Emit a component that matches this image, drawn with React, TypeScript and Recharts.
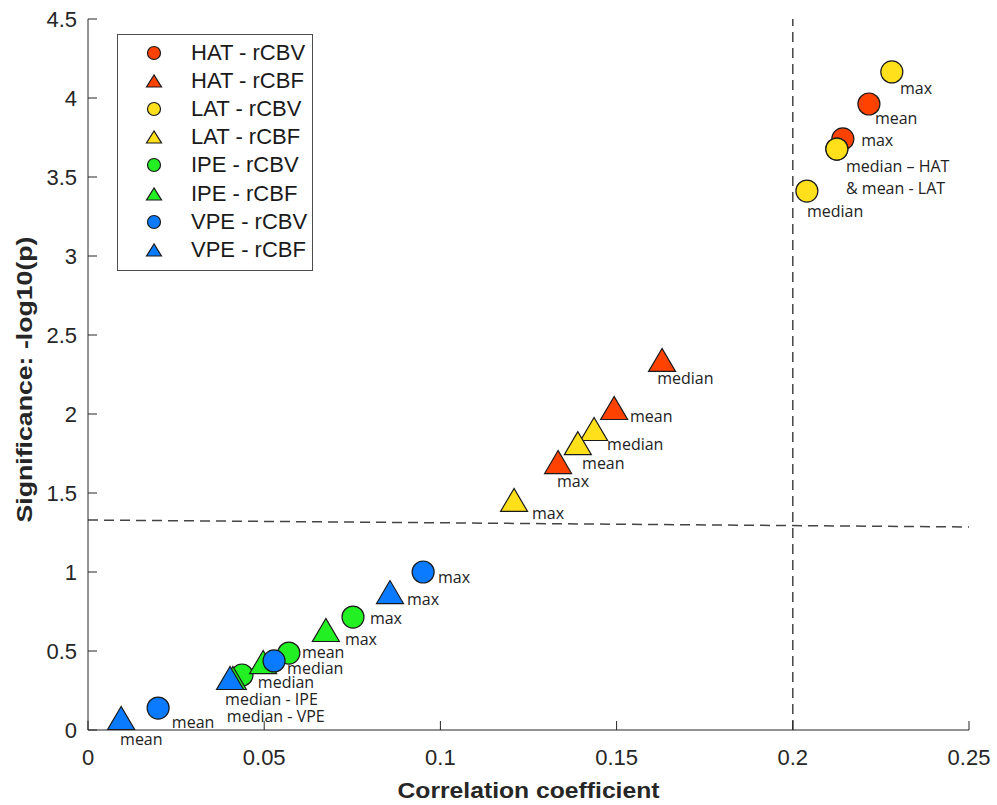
import { Legend, ReferenceDot, ReferenceLine, Scatter, ScatterChart, XAxis, YAxis } from "recharts";

type Pt = { x: number; y: number };

// axis ticks
const xTicks = [0, 0.05, 0.1, 0.15, 0.2, 0.25];
const yTicks = [0, 0.5, 1, 1.5, 2, 2.5, 3, 3.5, 4, 4.5];

// points: correlation coefficient vs -log10(p)
const hatRcbv: Pt[] = [
  { x: 0.2216, y: 3.962 }, // mean
  { x: 0.2142, y: 3.741 }, // max
  { x: 0.2125, y: 3.677 } // median
];
const hatRcbf: Pt[] = [
  { x: 0.1629, y: 2.342 }, // median
  { x: 0.1493, y: 2.038 }, // mean
  { x: 0.1334, y: 1.696 } // max
];
const latRcbv: Pt[] = [
  { x: 0.2281, y: 4.165 }, // max
  { x: 0.2125, y: 3.677 }, // mean
  { x: 0.204, y: 3.411 } // median
];
const latRcbf: Pt[] = [
  { x: 0.1436, y: 1.905 }, // median
  { x: 0.139, y: 1.816 }, // mean
  { x: 0.1209, y: 1.456 } // max
];
const ipeRcbv: Pt[] = [
  { x: 0.0752, y: 0.715 }, // max
  { x: 0.057, y: 0.487 }, // mean
  { x: 0.0437, y: 0.348 } // median
];
const ipeRcbf: Pt[] = [
  { x: 0.0675, y: 0.633 }, // max
  { x: 0.0497, y: 0.43 }, // mean
  { x: 0.0411, y: 0.329 } // median
];
const vpeRcbv: Pt[] = [
  { x: 0.0951, y: 1.0 }, // max
  { x: 0.0528, y: 0.437 }, // median
  { x: 0.0199, y: 0.139 } // mean
];
const vpeRcbf: Pt[] = [
  { x: 0.0857, y: 0.873 }, // max
  { x: 0.0403, y: 0.329 }, // median
  { x: 0.0094, y: 0.076 } // mean
];

const seriesNames = [
  "HAT - rCBV",
  "HAT - rCBF",
  "LAT - rCBV",
  "LAT - rCBF",
  "IPE - rCBV",
  "IPE - rCBF",
  "VPE - rCBV",
  "VPE - rCBF"
];
const seriesData = [hatRcbv, hatRcbf, latRcbv, latRcbf, ipeRcbv, ipeRcbf, vpeRcbv, vpeRcbf];

// text annotations (data coords of the text start)
const pointLabels = [
  { x: 0.2304, y: 4.063, text: "max" },
  { x: 0.2233, y: 3.873, text: "mean" },
  { x: 0.2194, y: 3.734, text: "max" },
  { x: 0.2151, y: 3.57, text: "median \u2013 HAT" },
  { x: 0.2151, y: 3.43, text: "& mean  - LAT" },
  { x: 0.204, y: 3.285, text: "median" },
  { x: 0.1615, y: 2.228, text: "median" },
  { x: 0.1538, y: 1.987, text: "mean" },
  { x: 0.1473, y: 1.81, text: "median" },
  { x: 0.1402, y: 1.69, text: "mean" },
  { x: 0.1331, y: 1.576, text: "max" },
  { x: 0.126, y: 1.373, text: "max" },
  { x: 0.0993, y: 0.968, text: "max" },
  { x: 0.0905, y: 0.829, text: "max" },
  { x: 0.08, y: 0.709, text: "max" },
  { x: 0.0729, y: 0.576, text: "max" },
  { x: 0.0607, y: 0.494, text: "mean" },
  { x: 0.0565, y: 0.392, text: "median" },
  { x: 0.0482, y: 0.304, text: "median" },
  { x: 0.0389, y: 0.196, text: "median - IPE" },
  { x: 0.0394, y: 0.089, text: "median - VPE" },
  { x: 0.0238, y: 0.051, text: "mean" },
  { x: 0.0091, y: -0.057, text: "mean" }
];

// significance threshold (slightly tilted in the original) and r threshold
const pThreshold = [
  { x: 0, y: 1.329 },
  { x: 0.25, y: 1.285 }
];
const rThreshold = 0.2;

const seriesColors = ["#ff4200", "#ff4200", "#ffe01b", "#ffe01b", "#22f022", "#22f022", "#0a7bff", "#0a7bff"];
const seriesShapes = ["circle", "triangle", "circle", "triangle", "circle", "triangle", "circle", "triangle"];

const AXIS = "#262626";
const FONT = "'Liberation Sans', Arial, sans-serif";

function Marker({ cx, cy, kind, color, r, hw, hh }: { cx: number; cy: number; kind: string; color: string; r: number; hw: number; hh: number }) {
  if (kind === "circle") {
    return <circle cx={cx} cy={cy} r={r} fill={color} stroke="#1a1a1a" strokeWidth={1.2} />;
  }
  const pts = `${cx},${cy - hh} ${cx - hw},${cy + hh} ${cx + hw},${cy + hh}`;
  return <polygon points={pts} fill={color} stroke="#1a1a1a" strokeWidth={1.2} strokeLinejoin="miter" />;
}

function LegendBox() {
  return (
    <div
      style={{
        position: "absolute",
        left: 0,
        top: 0,
        border: "1px solid #4d4d4d",
        background: "#fff",
        width: 196,
        height: 237,
        boxSizing: "border-box",
        paddingTop: 4,
        fontFamily: FONT
      }}
    >
      {seriesNames.map((name, i) => (
        <div key={name} style={{ display: "flex", alignItems: "center", height: 28.1 }}>
          <svg width={73} height={28} style={{ flex: "none" }}>
            <Marker cx={36} cy={14} kind={seriesShapes[i]} color={seriesColors[i]} r={6.5} hw={7.5} hh={6} />
          </svg>
          <span style={{ fontSize: 22, color: "#1a1a1a", whiteSpace: "nowrap" }}>{name}</span>
        </div>
      ))}
    </div>
  );
}

export default function App() {
  return (
    <div style={{ position: "absolute", left: 0, top: 0, width: 997, height: 805, background: "#fff" }}>
      <ScatterChart width={997} height={805} margin={{ top: 19, right: 28, left: 0, bottom: 0 }}>
        <XAxis
          type="number"
          dataKey="x"
          domain={[0, 0.25]}
          ticks={xTicks}
          interval={0}
          height={75}
          stroke={AXIS}
          tickSize={-9}
          tickMargin={28}
          tick={{ fill: AXIS, fontSize: 22, fontFamily: FONT }}
          label={{
            content: (props: any) => {
              const vb = props.viewBox;
              return (
                <text
                  x={vb.x + vb.width / 2}
                  y={vb.y + 60}
                  textAnchor="middle"
                  dominantBaseline="central"
                  fontFamily={FONT}
                  fontWeight="bold"
                  fontSize={22}
                  fill={AXIS}
                  textLength={262}
                  lengthAdjust="spacingAndGlyphs"
                >
                  Correlation coefficient
                </text>
              );
            }
          }}
        />
        <YAxis
          type="number"
          dataKey="y"
          domain={[0, 4.5]}
          ticks={yTicks}
          interval={0}
          width={88}
          stroke={AXIS}
          tickSize={-9}
          tickMargin={20}
          tick={{ fill: AXIS, fontSize: 22, fontFamily: FONT }}
          label={{
            content: (props: any) => {
              const vb = props.viewBox;
              const cy = vb.y + vb.height / 2 + 5;
              return (
                <text
                  x={24}
                  y={cy}
                  transform={`rotate(-90, 24, ${cy})`}
                  textAnchor="middle"
                  dominantBaseline="central"
                  fontFamily={FONT}
                  fontWeight="bold"
                  fontSize={22}
                  fill={AXIS}
                  textLength={286}
                  lengthAdjust="spacingAndGlyphs"
                >
                  Significance: -log10(p)
                </text>
              );
            }
          }}
        />
        <ReferenceLine x={rThreshold} stroke="#444" strokeWidth={1.5} strokeDasharray="10 6" />
        <ReferenceLine segment={pThreshold} stroke="#444" strokeWidth={1.5} strokeDasharray="10 6" />
        {seriesData.map((data, i) => (
          <Scatter
            key={seriesNames[i]}
            name={seriesNames[i]}
            data={data}
            isAnimationActive={false}
            fill={seriesColors[i]}
            shape={(p: any) => (
              <Marker cx={p.cx} cy={p.cy} kind={seriesShapes[i]} color={seriesColors[i]} r={11} hw={13.5} hh={11.5} />
            )}
          />
        ))}
        {pointLabels.map((l, i) => (
          <ReferenceDot
            key={i}
            x={l.x}
            y={l.y}
            r={0}
            ifOverflow="visible"
            shape={(p: any) => (
              <text
                x={p.cx}
                y={p.cy}
                dominantBaseline="central"
                fontFamily="'Open Sans', 'Noto Sans', sans-serif"
                fontSize={16}
                fill="#222"
              >
                {l.text}
              </text>
            )}
          />
        ))}
        <Legend
          content={() => <LegendBox />}
          wrapperStyle={{ left: 117, top: 34, width: 0, height: 0, overflow: "visible" }}
        />
      </ScatterChart>
    </div>
  );
}
